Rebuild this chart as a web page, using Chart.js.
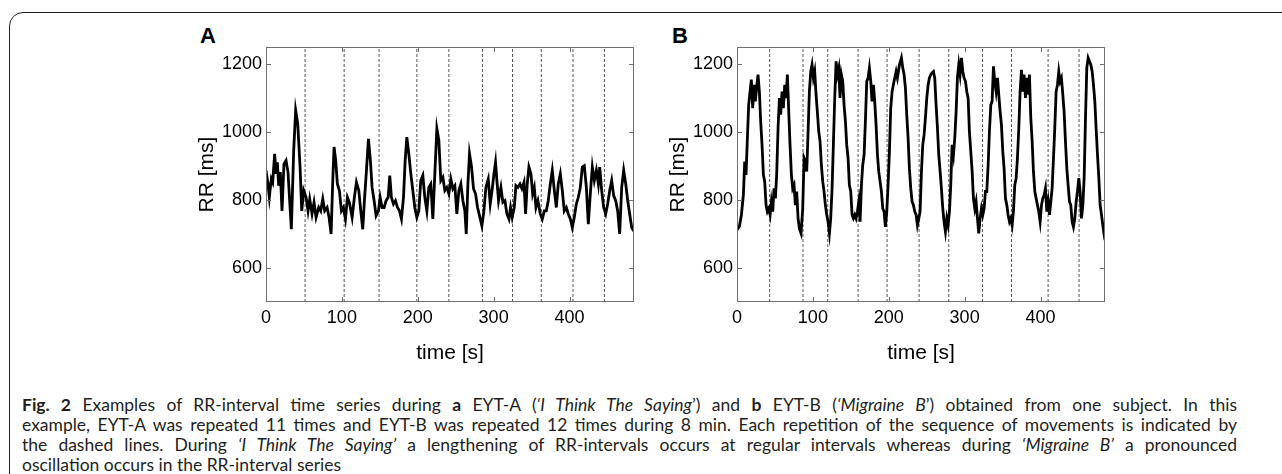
<!DOCTYPE html>
<html>
<head>
<meta charset="utf-8">
<script src="https://cdn.jsdelivr.net/npm/chart.js@4.4.1/dist/chart.umd.min.js"></script>
<style>
  html, body { margin: 0; padding: 0; background: #fff; overflow: hidden; }
  body { width: 1282px; height: 474px; position: relative; }
  #frame { position: absolute; left: 9px; top: 12px; width: 1300px; height: 520px;
    border: 1.5px solid #222; border-top-left-radius: 14px; }
  .cv { position: absolute; top: 0; }
  .lbl { position: absolute; font: bold 22px "Liberation Sans", Arial, sans-serif; line-height: 22px; }
  #cap { position: absolute; left: 22px; top: 395px; color: #231f20; font: 17.5px Lato, sans-serif;
    transform-origin: 0 0; }
  .ln { width: 1215px; text-align: justify; text-align-last: justify; line-height: 20px; white-space: nowrap; }
  .ln.last { text-align-last: left; }
</style>
</head>
<body>
<div id="frame"></div>
<div class="lbl" style="left:200px;top:25px">A</div>
<div class="lbl" style="left:672px;top:25px">B</div>
<canvas id="chartA" class="cv" style="left:150px" width="500" height="380"></canvas>
<canvas id="chartB" class="cv" style="left:621px" width="500" height="380"></canvas>
<div id="cap">
  <div class="ln"><b>Fig. 2</b> Examples of RR-interval time series during <b>a</b> EYT-A (<i>‘I Think The Saying</i>’) and <b>b</b> EYT-B (<i>‘Migraine B</i>’) obtained from one subject. In this</div>
  <div class="ln">example, EYT-A was repeated 11 times and EYT-B was repeated 12 times during 8 min. Each repetition of the sequence of movements is indicated by</div>
  <div class="ln">the dashed lines. During <i>‘I Think The Saying’</i> a lengthening of RR-intervals occurs at regular intervals whereas during <i>‘Migraine B’</i> a pronounced</div>
  <div class="ln last">oscillation occurs in the RR-interval series</div>
</div>
<script>
// time [s] and RR interval [ms]
const timeA = [0,2.6,4.4,7.0,8.8,11.4,13.2,15.0,16.7,18.9,21.1,23.7,26.4,29.0,33.4,36.5,39.1,41.8,44.9,47.1,49.7,52.8,55.4,57.6,60.7,63.3,66.0,69.5,72.1,74.8,77.4,80.5,83.1,85.8,88.0,89.7,91.9,94.1,96.7,99.4,102.0,104.7,107.3,109.9,113.5,116.5,119.2,122.3,124.9,127.5,129.7,132.4,135.0,137.6,139.8,142.5,145.1,148.2,150.4,153.0,155.7,158.3,161.0,163.1,165.3,168.0,170.6,173.3,175.9,178.5,181.2,183.4,185.6,188.2,190.9,193.5,196.1,198.8,201.4,204.0,206.7,209.3,212.0,214.6,217.2,219.9,222.5,225.2,227.8,230.4,233.1,235.7,238.3,241.0,
  243.6,246.3,248.9,251.5,254.2,256.8,259.5,262.1,263.9,266.1,268.2,270.9,273.5,276.2,278.8,281.4,284.5,287.2,289.8,292.9,295.5,298.2,300.4,302.5,304.3,306.5,309.6,312.2,314.9,317.5,320.2,322.3,324.5,327.2,329.4,332.0,334.7,337.3,340.0,342.1,344.3,346.5,349.2,351.4,353.6,355.8,358.4,361.5,364.1,366.8,369.4,372.0,374.7,377.3,380.0,382.6,385.2,387.9,390.5,393.1,395.8,398.4,401.1,403.7,406.3,409.0,411.6,414.2,416.9,419.5,422.2,424.8,427.4,430.1,432.7,435.4,438.0,439.8,442.4,445.0,447.7,450.3,453.0,455.6,458.2,460.9,463.5,466.1,468.8,471.4,474.1,476.7,479.3,482.0,484.6];
const rrA = [887,847,808,862,852,936,877,911,842,882,768,906,916,882,714,946,1064,1025,897,768,828,808,768,803,759,793,749,778,768,803,768,778,749,700,857,956,916,847,828,768,778,744,808,793,749,808,852,828,768,714,798,887,980,916,837,798,754,768,808,778,778,798,808,872,808,788,798,778,768,744,808,916,985,936,877,828,778,749,768,857,872,808,768,837,847,744,877,1010,975,857,867,828,837,818,
  862,833,842,759,828,847,798,768,700,847,936,897,833,818,778,754,724,768,837,862,788,833,877,911,857,798,837,793,798,759,744,778,749,778,842,837,847,833,852,759,847,897,877,818,837,778,798,759,744,768,768,798,847,887,828,778,847,877,828,768,778,759,744,719,749,788,808,837,897,901,837,729,818,897,857,887,847,897,828,778,759,788,828,857,813,798,768,700,837,887,847,798,759,719,709];
const timeB = [0,3.1,5.8,8.4,10.2,11.9,13.7,15.4,17.2,18.9,20.7,22.5,24.2,26.0,27.7,29.5,31.2,33.0,34.8,36.5,38.3,40.0,41.8,43.6,45.3,47.1,48.8,50.6,52.3,54.1,55.9,57.6,59.4,61.1,62.9,64.6,66.4,68.2,69.9,71.7,73.4,75.2,76.9,78.7,80.5,82.2,84.4,86.6,88.4,90.1,91.9,93.7,95.4,97.2,98.9,100.7,102.4,104.2,105.9,107.7,109.5,111.2,113.0,114.7,116.5,118.3,120.0,121.8,123.5,125.3,127.0,128.8,130.6,132.3,134.1,135.8,137.6,139.4,141.1,142.9,144.6,146.4,148.1,149.9,151.7,153.4,155.2,156.9,158.7,160.5,162.2,164.0,165.7,167.5,169.2,171.0,172.8,174.5,176.3,178.0,179.8,181.5,183.3,185.1,186.8,188.6,190.3,192.1,193.8,195.6,197.4,199.1,200.9,202.6,204.4,206.1,207.9,209.7,211.4,214.1,216.7,218.5,220.2,222.0,223.7,225.5,227.2,229.0,230.8,232.5,234.3,236.1,237.8,239.6,241.3,
  243.1,244.8,246.6,248.3,250.1,251.9,253.6,255.4,257.1,258.9,260.6,262.4,264.2,265.9,267.7,269.4,271.2,272.9,274.7,276.5,278.2,280.0,281.7,283.5,285.3,287.0,288.8,290.5,292.3,294.0,295.8,297.6,299.3,301.1,302.8,304.6,306.3,308.1,309.9,311.6,313.4,315.1,316.9,318.6,320.4,322.2,323.9,325.7,327.4,329.2,331.0,332.7,334.5,336.2,338.0,339.7,341.5,343.3,345.0,346.8,348.5,350.3,352.0,353.8,355.6,357.3,359.1,360.8,362.6,364.3,366.1,367.9,369.6,371.4,373.1,374.9,376.7,378.4,380.2,381.9,383.7,385.4,387.2,389.0,390.7,392.5,394.2,396.0,397.7,399.5,401.3,403.0,404.8,406.5,408.3,410.1,411.8,413.6,415.3,417.1,418.8,420.6,422.4,424.1,425.9,427.6,429.4,431.1,432.9,434.7,436.4,438.2,439.9,441.7,443.4,445.2,447.0,448.7,450.5,452.2,454.0,455.8,457.5,459.3,461.0,462.8,464.5,466.3,468.1,469.8,471.6,473.3,475.1,476.9,478.6,480.4,482.1,483.9,485];
const rrB = [712,722,756,815,913,874,982,1080,1119,1154,1070,1139,1090,1134,1169,1119,1031,962,874,854,785,766,775,756,795,766,834,805,874,1011,1100,1051,1119,1070,1139,1100,1169,1060,962,874,834,844,785,825,746,716,702,775,923,913,884,1002,1119,1178,1198,1159,1178,1110,1060,1002,972,903,854,825,785,756,736,702,746,834,962,1100,1208,1169,1188,1100,1169,1149,1080,1031,962,923,844,825,756,746,756,746,766,795,736,844,903,933,1031,1149,1159,1188,1149,1090,1139,1090,1021,933,884,854,825,775,766,721,766,844,943,1070,1119,1139,1159,1178,1159,1198,1218,1188,1169,1129,1051,982,893,834,795,785,766,756,726,746,766,
  884,962,992,1041,1100,1139,1159,1169,1174,1178,1159,1080,1011,933,884,834,775,736,707,746,726,766,844,962,933,982,1060,1159,1198,1169,1218,1178,1159,1149,1119,1100,1002,943,884,805,775,795,746,702,746,775,756,775,825,825,903,1002,1080,1090,1193,1149,1119,1159,1110,1060,1021,943,893,805,785,756,736,746,726,766,844,864,923,1011,1119,1183,1119,1169,1100,1159,1110,1169,1041,972,884,825,805,785,766,736,785,805,815,834,766,795,756,795,834,923,1011,1119,1139,1178,1149,1159,1110,1060,972,893,844,795,785,736,721,746,795,825,864,825,746,785,864,1041,1188,1218,1208,1198,1178,1139,1090,1011,933,864,785,756,726,697,682];

// start of each repetition (dashed lines)
const repsA = [51.5,103.0,149.0,198.8,241.0,285.3,324.9,362.8,404.6,446.0];
const repsB = [43.1,87.0,119.6,159.6,197.8,240.0,279.1,323.5,361.7,410.0,450.8];

const xTicks = [0,100,200,300,400];
const yTicks = [600,800,1000,1200];
const xRange = [0,485];
const yRange = [500,1250];

const boxPlugin = {
  id: 'box',
  afterDraw(chart) {
    const {ctx, chartArea: a, scales: {x, y}} = chart;
    ctx.save();
    ctx.strokeStyle = '#6e6e6e';
    ctx.lineWidth = 1;
    ctx.strokeRect(Math.round(a.left) + 0.5, Math.round(a.top) + 0.5, Math.round(a.width) - 1, Math.round(a.height) - 1);
    ctx.beginPath();
    x.ticks.forEach(t => {
      const px = Math.round(x.getPixelForValue(t.value)) + 0.5;
      ctx.moveTo(px, a.bottom); ctx.lineTo(px, a.bottom - 5);
      ctx.moveTo(px, a.top); ctx.lineTo(px, a.top + 5);
    });
    y.ticks.forEach(t => {
      const py = Math.round(y.getPixelForValue(t.value)) + 0.5;
      ctx.moveTo(a.left, py); ctx.lineTo(a.left + 5, py);
      ctx.moveTo(a.right, py); ctx.lineTo(a.right - 5, py);
    });
    ctx.stroke();
    ctx.restore();
  }
};

const tickFont = {family: '"Liberation Sans", Arial, sans-serif', size: 18};
const titleFont = {family: '"Liberation Sans", Arial, sans-serif', size: 21};

function makeChart(id, times, rr, reps) {
  const datasets = [{
    data: times.map((t, i) => ({x: t, y: rr[i]})),
    borderColor: '#000',
    borderWidth: 2.8,
    pointRadius: 0,
    tension: 0,
    order: 0
  }];
  reps.forEach(t => datasets.push({
    data: [{x: t, y: yRange[0]}, {x: t, y: yRange[1]}],
    borderColor: '#555',
    borderWidth: 1,
    borderDash: [3, 2],
    pointRadius: 0,
    order: 1
  }));

  return new Chart(document.getElementById(id), {
    type: 'line',
    data: {datasets},
    plugins: [boxPlugin],
    options: {
      responsive: false,
      animation: false,
      devicePixelRatio: 1,
      layout: {padding: {top: 47, right: 16, left: 0, bottom: 0}},
      plugins: {legend: {display: false}, tooltip: {enabled: false}},
      scales: {
        x: {
          type: 'linear',
          min: xRange[0], max: xRange[1],
          grid: {display: false, drawTicks: false},
          border: {display: false},
          afterBuildTicks: s => { s.ticks = xTicks.map(v => ({value: v})); },
          afterFit: s => { s.height = 78; },
          ticks: {color: '#000', padding: 5, maxRotation: 0, font: tickFont, callback: v => String(v)},
          title: {display: true, text: 'time [s]', color: '#000', font: titleFont,
            padding: {top: 0, bottom: 14}}
        },
        y: {
          type: 'linear',
          min: yRange[0], max: yRange[1],
          grid: {display: false, drawTicks: false},
          border: {display: false},
          afterBuildTicks: s => { s.ticks = yTicks.map(v => ({value: v})); },
          afterFit: s => { s.width = 116; },
          ticks: {color: '#000', padding: 4, font: tickFont, callback: v => String(v)},
          title: {display: true, text: 'RR [ms]', color: '#000', font: titleFont,
            padding: {top: 45, bottom: 0}}
        }
      }
    }
  });
}

makeChart('chartA', timeA, rrA, repsA);
makeChart('chartB', timeB, rrB, repsB);

// squeeze the caption horizontally so the justified lines fit the column
(function fitCaption() {
  const cap = document.getElementById('cap');
  const lines = Array.from(cap.querySelectorAll('.ln'));
  const probe = document.createElement('span');
  probe.style.cssText = 'white-space:nowrap;position:absolute;visibility:hidden;font:17.5px Lato, sans-serif';
  document.body.appendChild(probe);
  const widest = Math.max(...lines.slice(0, 3).map(l => { probe.innerHTML = l.innerHTML; return probe.offsetWidth; }));
  probe.remove();
  const s = Math.min(1, 1206 / widest);
  lines.forEach(l => { l.style.width = (1215 / s) + 'px'; });
  cap.style.transform = 'scaleX(' + s + ')';
})();
</script>
</body>
</html>
